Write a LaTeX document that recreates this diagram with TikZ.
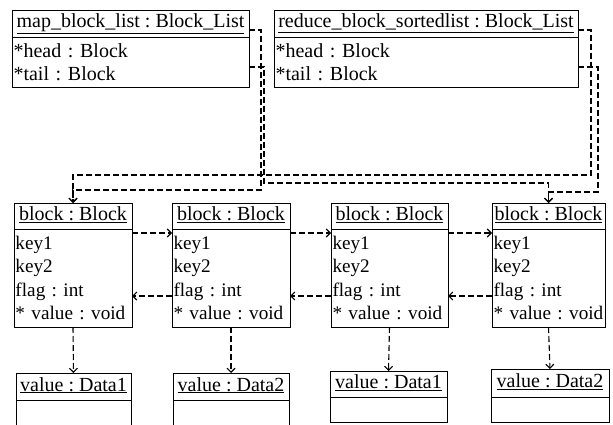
\documentclass[tikz,border=0pt]{standalone}
\usepackage{fontspec}
\setmainfont{Liberation Serif}
\usetikzlibrary{positioning,arrows.meta}
\frenchspacing

\begin{document}
\begin{tikzpicture}[
    x=1pt, y=-1pt,
    font=\fontsize{20}{23}\selectfont,
    hdr/.style={rectangle, draw, anchor=north west, outer sep=0pt, inner xsep=1pt, inner ysep=0pt, minimum height=26pt, text height=15pt, text depth=6pt},
    attrs/.style={rectangle, draw, align=left, outer sep=0pt, inner xsep=1.5pt, inner ysep=0pt},
    blkattrs/.style={attrs, font=\fontsize{19.2}{23.3}\selectfont, minimum height=98pt},
    ptr/.style={-{Straight Barb[length=4pt,width=8pt]}, dash pattern=on 6pt off 3pt, line width=1.1pt}
]
\useasboundingbox (0,0) rectangle (613,425);

% -------- Lists --------
\node[hdr, minimum width=237pt, minimum height=27pt] (maphd) at (12,10) {\underline{map\_block\_list : Block\_List}};
\node[attrs, below=0pt of maphd, text width=234pt, minimum height=50pt] (mapbd) {{*}head : Block\\{*}tail : Block};

\node[hdr, minimum width=304pt, minimum height=27pt] (redhd) at (274,10) {\underline{reduce\_block\_sortedlist : Block\_List}};
\node[attrs, below=0pt of redhd, text width=301pt, minimum height=50pt] (redbd) {{*}head : Block\\{*}tail : Block};

% -------- Blocks --------
\node[hdr, minimum width=118pt] (blk1) at (14,203) {\underline{block : Block}};
\node[blkattrs, below=0pt of blk1, text width=115pt] (blk1bd) {key1\\key2\\flag : int\\\mbox{* value : void}};

\node[hdr, minimum width=118pt] (blk2) at (172,203) {\underline{block : Block}};
\node[blkattrs, below=0pt of blk2, text width=115pt] (blk2bd) {key1\\key2\\flag : int\\\mbox{* value : void}};

\node[hdr, minimum width=117pt] (blk3) at (331,203) {\underline{block : Block}};
\node[blkattrs, below=0pt of blk3, text width=114pt] (blk3bd) {key1\\key2\\flag : int\\\mbox{* value : void}};

\node[hdr, minimum width=113pt] (blk4) at (492,203) {\underline{block : Block}};
\node[blkattrs, below=0pt of blk4, text width=110pt] (blk4bd) {key1\\key2\\flag : int\\\mbox{* value : void}};

% -------- Values --------
\node[hdr, minimum width=115pt, minimum height=27pt] (val1) at (16,373) {\underline{value : Data1}};
\node[attrs, below=0pt of val1, minimum width=115pt, minimum height=30pt] (val1bd) {};

\node[hdr, minimum width=116pt, minimum height=27pt] (val2) at (173,373) {\underline{value : Data2}};
\node[attrs, below=0pt of val2, minimum width=116pt, minimum height=30pt] (val2bd) {};

\node[hdr, minimum width=117pt] (val3) at (330,371) {\underline{value : Data1}};
\node[attrs, below=0pt of val3, minimum width=117pt, minimum height=25pt] (val3bd) {};

\node[hdr, minimum width=118pt, minimum height=28pt] (val4) at (491,369) {\underline{value : Data2}};
\node[attrs, below=0pt of val4, minimum width=118pt, minimum height=25pt] (val4bd) {};

% -------- Arrows --------
\coordinate (mapheadbend) at (261,190);
\coordinate (maptailbend) at (264,183);
\coordinate (redheadbend) at (591,175);
\coordinate (redtailbend) at (598,192);

\draw[ptr] ([yshift=-6.5pt]maphd.east) -| (mapheadbend) -| (blk1.north);
\draw[ptr] ([yshift=-5pt]mapbd.east) -| (maptailbend) -| (blk4.north);
\draw[ptr] ([yshift=-6.5pt]redhd.east) -| (redheadbend) -| (blk1.north);
\draw[ptr] ([yshift=-5pt]redbd.east) -| (redtailbend) -| (blk4.north);

\draw[ptr] ([yshift=-4pt]blk1bd.north east) -- ([yshift=-4pt]blk2bd.north west);
\draw[ptr] ([yshift=-4pt]blk2bd.north east) -- ([yshift=-4pt]blk3bd.north west);
\draw[ptr] ([yshift=-4pt]blk3bd.north east) -- ([yshift=-4pt]blk4bd.north west);
\draw[ptr] ([yshift=-67pt]blk2bd.north west) -- ([yshift=-67pt]blk1bd.north east);
\draw[ptr] ([yshift=-67pt]blk3bd.north west) -- ([yshift=-67pt]blk2bd.north east);
\draw[ptr] ([yshift=-67pt]blk4bd.north west) -- ([yshift=-67pt]blk3bd.north east);

\draw[ptr] (blk1bd.south) -- (val1.north);
\draw[ptr] (blk2bd.south) -- (val2.north);
\draw[ptr] (blk3bd.south) -- (val3.north);
\draw[ptr] (blk4bd.south) -- (val4.north);

\end{tikzpicture}
\end{document}
